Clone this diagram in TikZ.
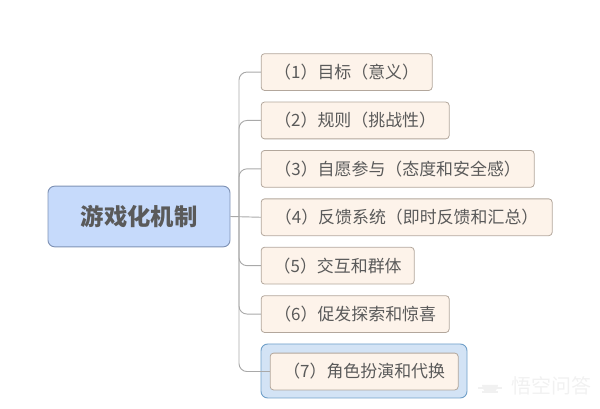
\documentclass[tikz,border=0pt]{standalone}
\usepackage{fontspec}
\setmainfont{Noto Sans CJK SC}
\usetikzlibrary{matrix,backgrounds}
\definecolor{itemfill}{HTML}{FDF3EA}
\definecolor{itemline}{HTML}{B3A79C}
\definecolor{mainfill}{HTML}{C6DAFB}
\definecolor{mainline}{HTML}{7F92B5}
\definecolor{pickfill}{HTML}{D3E3F5}
\definecolor{pickline}{HTML}{6F9FC8}
\definecolor{branch}{HTML}{A9A9A9}
\definecolor{wordcol}{HTML}{5A5A5A}
\definecolor{markcol}{HTML}{F1F1F1}
\begin{document}
\begin{tikzpicture}[x=0.75pt,y=-0.75pt,font=\fontsize{12.7pt}{14pt}\selectfont,text=wordcol,
items/.style={matrix of nodes,inner sep=0pt,row sep=8.1pt,
nodes={draw=itemline, fill=itemfill, rounded corners=2.5pt, line width=0.6pt, minimum height=27.6pt, anchor=west, inner sep=0pt}},
mainbox/.style={draw=mainline, fill=mainfill, rounded corners=5pt, line width=0.7pt, minimum width=136.5pt, minimum height=45.5pt, inner sep=0pt, font=\fontsize{17.5pt}{20pt}\selectfont\bfseries},
link/.style={draw=branch, line width=0.7pt, rounded corners=6pt}]
\useasboundingbox (0,0) rectangle (600,409);
\node[mainbox] (main) at (139,216.5) {游戏化机制};
\matrix[items, anchor=north west] (items) at (260.5,53) {
|[minimum width=128.25pt]| （1）目标（意义）\\
|[minimum width=141pt]| （2）规则（挑战性）\\
|[minimum width=204.75pt]| （3）自愿参与（态度和安全感）\\
|[minimum width=218.25pt]| （4）反馈系统（即时反馈和汇总）\\
|[minimum width=114.75pt]| （5）交互和群体\\
|[minimum width=141pt]| （6）促发探索和惊喜\\[6.8pt]
|[minimum width=141pt,xshift=6.75pt]| （7）角色扮演和代换\\
};
\coordinate (trunk) at (239,216.5);
\begin{scope}[on background layer]
\fill[pickfill,draw=pickline,line width=0.7pt,rounded corners=5pt] (261,344) rectangle (467,398);
\end{scope}
\draw[link] (main.east) -- (items-4-1.west);
\foreach \row in {1,2,3,5,6,7}
  \draw[link] (trunk) |- (items-\row-1.west);
% faint mark in the corner
\fill[markcol] (482,385) arc (180:0:8) -- cycle;
\fill[markcol] (478,387) rectangle (502,389);
\fill[markcol] (482,391) rectangle (498,393);
\node[text=markcol,font=\fontsize{15pt}{17pt}\selectfont,anchor=west] (mark) at (507,386) {悟空问答};
\end{tikzpicture}
\end{document}
